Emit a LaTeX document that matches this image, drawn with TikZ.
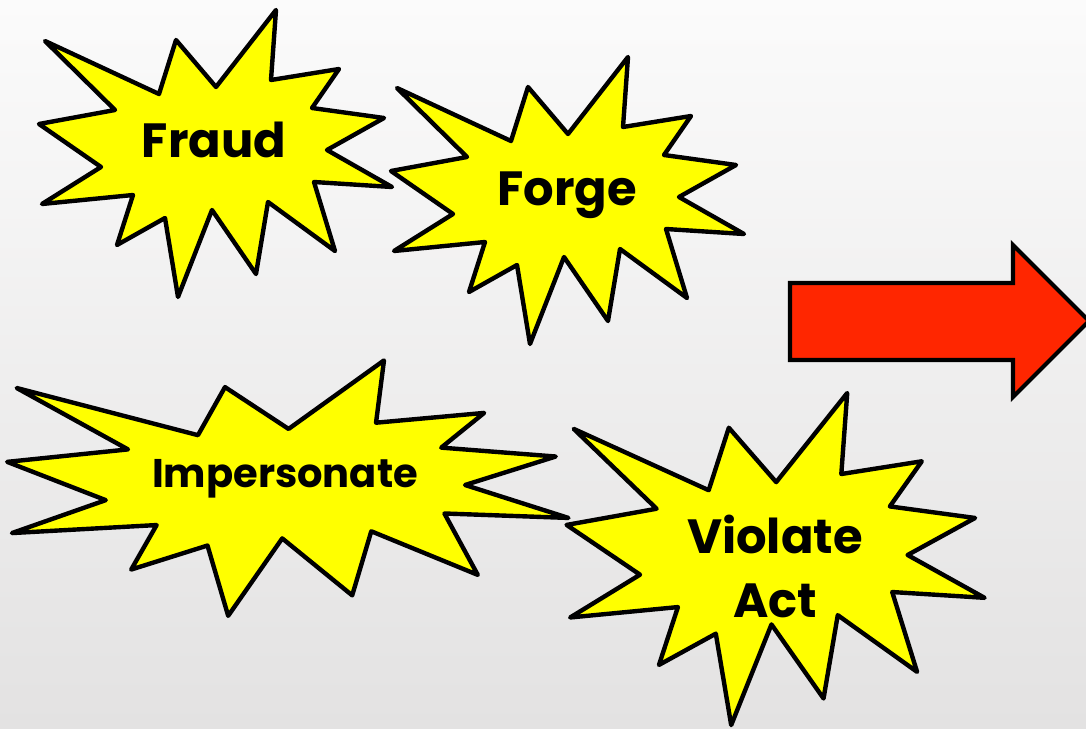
\documentclass[tikz,border=0pt]{standalone}
\usepackage{fontspec}
\setsansfont{Poppins}
\usepackage{tikz}
\definecolor{burstfill}{HTML}{FFFF00}
\definecolor{arrowred}{HTML}{FF2600}
\definecolor{bgtop}{HTML}{FBFBFB}
\definecolor{bgbot}{HTML}{E3E2E2}
\tikzset{
  burst/.style={fill=burstfill, draw=black, line width=4.4pt, line join=round},
  arrowbody/.style={fill=arrowred, draw=black, line width=4.2pt, line join=miter},
  word/.style={font=\sffamily\bfseries\fontsize{48}{64}\selectfont, inner sep=0pt, align=center},
  bang/.pic={
    \path[burst] (-170,-109) -- (-56,-56) -- (-39,-110) -- (1,-63) -- (61,-140) -- (56,-70)
      -- (124,-81) -- (97,-42) -- (169,-32) -- (112,0) -- (177,37) -- (99,32)
      -- (120,101) -- (53,52) -- (41,124) -- (-3,60) -- (-37,147) -- (-50,68)
      -- (-98,95) -- (-82,45) -- (-173,54) -- (-114,17) -- (-176,-26) -- (-100,-40) -- cycle;
  },
}

\begin{document}
\begin{tikzpicture}[x=1pt, y=-1pt]
  \useasboundingbox (0,0) rectangle (1086,728);
  \shade[top color=bgtop, bottom color=bgbot] (0,0) rectangle (1086,728);
  \clip (0,0) rectangle (1086,728);
  % the four bursts
  \pic at (215,150) {bang};
  \pic at (567,197) {bang};
  \pic[xscale=1.59, yscale=0.89] at (287,485) {bang};
  \pic[xscale=1.184, yscale=1.157] at (775,555) {bang};
  \node[word, anchor=base] (fraudtxt) at (214,157) {Fraud};
  \node[word, anchor=base] (forgetxt) at (567,205) {Forge};
  \node[word, anchor=base, font=\sffamily\bfseries\fontsize{40}{48}\selectfont] (imptxt) at (285,487) {Impersonate};
  \node[word] (violtxt) at (775,566) {Violate\\Act};
  % red arrow, cut by the edge
  \path[arrowbody] (790,283) -- (1013,283) -- (1013,245) -- (1089,321) -- (1013,397)
    -- (1013,360) -- (790,360) -- cycle;
\end{tikzpicture}
\end{document}
